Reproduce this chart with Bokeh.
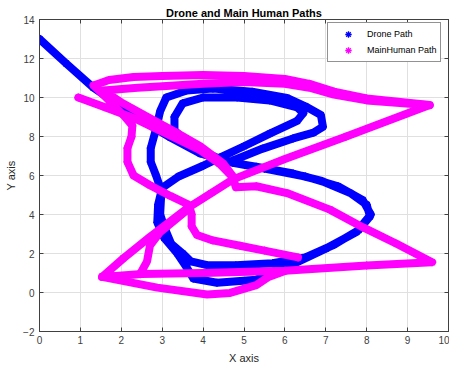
from bokeh.plotting import figure
from bokeh.models import Range1d, FixedTicker, Legend, LegendItem, LinearAxis
from bokeh.embed import file_html
from bokeh.resources import INLINE

# ---------------- data ----------------
title_text = "Drone and Main Human Paths"
x_label = "X axis"
y_label = "Y axis"
x_ticks = [0, 1, 2, 3, 4, 5, 6, 7, 8, 9, 10]
y_ticks = [-2, 0, 2, 4, 6, 8, 10, 12, 14]
series_names = ["Drone Path", "MainHuman Path"]

# Drone path (one continuous figure-eight style trajectory)
drone_x = [0.0, 0.65, 1.32, 2.39, 3.2, 3.93, 4.73,
           5.3, 6.2, 6.9, 7.6, 8.0, 8.08, 7.8, 7.2, 6.5, 5.7, 4.8, 4.1, 3.7, 3.5, 3.22, 3.08, 2.95, 2.97, 3.02,
           3.4, 4.0, 4.41, 5.0, 5.63, 6.3, 6.45, 6.3, 5.63, 4.83, 4.0, 3.5, 3.3, 3.3, 3.8, 4.3, 4.73,
           5.5, 6.5, 7.3, 7.9, 8.1, 7.75, 7.0, 6.2, 5.63, 5.3, 4.34, 3.76, 3.6, 3.37, 3.05, 2.88, 2.9, 2.98,
           2.85, 2.72, 2.72, 2.85, 2.95, 3.1, 3.6, 4.24, 5.2, 6.05, 6.5, 6.88, 6.93, 6.7, 6.2, 5.46, 4.73]
drone_y = [13.0, 11.75, 10.5, 8.97, 7.95, 7.13, 6.65,
           6.45, 6.1, 5.72, 5.1, 4.5, 3.9, 3.2, 2.45, 1.8, 1.5, 1.4, 1.4, 1.6, 2.0, 2.5, 3.2, 4.0, 4.8, 5.4,
           5.95, 6.5, 6.92, 7.5, 8.15, 8.8, 9.2, 9.5, 9.85, 10.0, 10.0, 9.7, 9.0, 8.3, 7.4, 6.95, 6.65,
           6.35, 5.95, 5.45, 4.75, 4.0, 3.1, 2.25, 1.45, 1.0, 0.65, 0.5, 0.72, 1.28, 2.0, 2.8, 3.6, 4.5, 5.2,
           6.0, 6.7, 7.4, 8.4, 9.3, 10.0, 10.36, 10.46, 10.3, 9.98, 9.55, 9.1, 8.5, 8.2, 7.9, 7.38, 6.77]

# Main human path, drawn as several strokes
human_main_x = [0.95, 1.6, 2.3, 3.2, 3.93, 4.4, 4.73, 4.8,
                5.3, 6.05, 7.1, 7.9, 8.73, 9.6,
                8.0, 6.0, 4.0, 2.5, 1.53,
                2.05, 2.7, 3.6, 4.2, 4.73, 6.0, 7.5, 9.54,
                8.0, 7.2, 6.6, 6.0, 5.0, 4.0, 3.0, 2.3, 1.7, 1.32,
                1.7, 2.05, 2.27, 2.25, 2.15, 2.15, 2.3, 2.7, 3.2, 3.65,
                3.72, 3.72, 3.85, 4.24, 4.9, 5.5, 6.32]
human_main_y = [10.0, 9.5, 8.95, 8.05, 7.3, 6.6, 5.9, 5.4,
                5.45, 5.1, 4.25, 3.35, 2.5, 1.55,
                1.38, 1.12, 1.0, 0.95, 0.8,
                1.75, 2.85, 4.3, 5.1, 5.8, 6.85, 8.0, 9.62,
                9.95, 10.3, 10.7, 10.95, 11.1, 11.15, 11.1, 11.05, 10.9, 10.62,
                9.85, 9.1, 8.55, 8.0, 7.4, 6.7, 6.0, 5.5, 4.95, 4.5,
                4.0, 3.4, 2.95, 2.67, 2.4, 2.15, 1.8]

human_top_x = [9.54, 8.0, 7.2, 6.6, 6.0, 5.0, 4.0, 3.2, 2.4, 1.56,
               2.0, 2.6, 3.3, 3.93, 4.5, 4.75]
human_top_y = [9.6, 9.85, 10.15, 10.5, 10.7, 10.8, 10.7, 10.6, 10.5, 10.36,
               9.75, 9.05, 8.25, 7.5, 6.6, 5.9]

human_left_x = [2.46, 2.63, 2.7, 2.95, 3.3, 3.65]
human_left_y = [0.95, 1.6, 2.4, 3.1, 3.7, 4.3]

human_low_x = [1.53, 2.88, 4.1, 4.66, 5.3, 5.6, 6.0]
human_low_y = [0.8, 0.25, -0.1, -0.02, 0.38, 0.8, 1.1]

# ---------------- figure ----------------
p = figure(width=449, height=367, x_range=Range1d(0, 10), y_range=Range1d(-2, 14),
           output_backend="svg", toolbar_location=None, title=title_text,
           min_border_left=39, min_border_right=1, min_border_top=19, min_border_bottom=36)
p.background_fill_color = "white"
p.border_fill_color = "white"
p.outline_line_color = "#404040"
p.outline_line_width = 1

p.title.align = "center"
p.title.text_font = "Liberation Sans"
p.title.text_font_size = "11px"
p.title.text_font_style = "bold"
p.title.text_color = "#000000"
p.title.standoff = 2
p.title.offset = 0

p.add_layout(LinearAxis(), "right")
p.add_layout(LinearAxis(), "above")

for ax in p.xaxis:
    ax.ticker = FixedTicker(ticks=x_ticks)
for ax in p.yaxis:
    ax.ticker = FixedTicker(ticks=y_ticks)
for ax in list(p.xaxis) + list(p.yaxis):
    ax.major_tick_in = 4
    ax.major_tick_out = 0
    ax.minor_tick_line_color = None
    ax.axis_line_color = "#404040"
    ax.major_tick_line_color = "#404040"
    ax.major_label_text_font = "Liberation Sans"
    ax.major_label_text_font_size = "10px"
    ax.major_label_text_color = "#404040"
    ax.axis_label_text_font = "Liberation Sans"
    ax.axis_label_text_font_size = "11px"
    ax.axis_label_text_font_style = "normal"
    ax.axis_label_text_color = "#262626"
for ax in list(p.right) + [a for a in p.above if isinstance(a, LinearAxis)]:
    ax.major_label_text_font_size = "0px"
    ax.major_label_standoff = 0
    ax.major_label_text_color = None

p.below[0].axis_label = x_label
p.left[0].axis_label = y_label
p.below[0].major_label_standoff = 4
p.left[0].major_label_standoff = 5
p.below[0].axis_label_standoff = 5
p.left[0].axis_label_standoff = 3

p.grid.grid_line_color = "#e0e0e0"
p.grid.grid_line_width = 1

blue = "#0000ff"
magenta = "#ff00ff"
lw = 8

p.line(drone_x, drone_y, line_width=lw, line_color=blue, line_join="round", line_cap="round")
r_d = p.scatter(drone_x, drone_y, marker="asterisk", size=8, line_color=blue, line_width=1.3)

p.multi_line([human_main_x, human_top_x, human_left_x, human_low_x],
             [human_main_y, human_top_y, human_left_y, human_low_y],
             line_width=lw, line_color=magenta, line_join="round", line_cap="round")
r_h = p.scatter(human_main_x, human_main_y, marker="asterisk", size=8, line_color=magenta, line_width=1.3)

legend = Legend(items=[LegendItem(label=series_names[0], renderers=[r_d]),
                       LegendItem(label=series_names[1], renderers=[r_h])],
                location=(288, 269))
legend.label_text_font = "Liberation Sans"
legend.label_text_font_size = "9px"
legend.label_text_color = "#000000"
legend.padding = 3
legend.spacing = -3
legend.glyph_width = 34
legend.glyph_height = 16
legend.label_height = 14
legend.label_standoff = 2
legend.margin = 0
legend.border_line_color = "#262626"
legend.border_line_width = 1
legend.background_fill_color = "white"
legend.background_fill_alpha = 1
p.add_layout(legend)

open("out.html", "w").write(file_html(p, INLINE))
